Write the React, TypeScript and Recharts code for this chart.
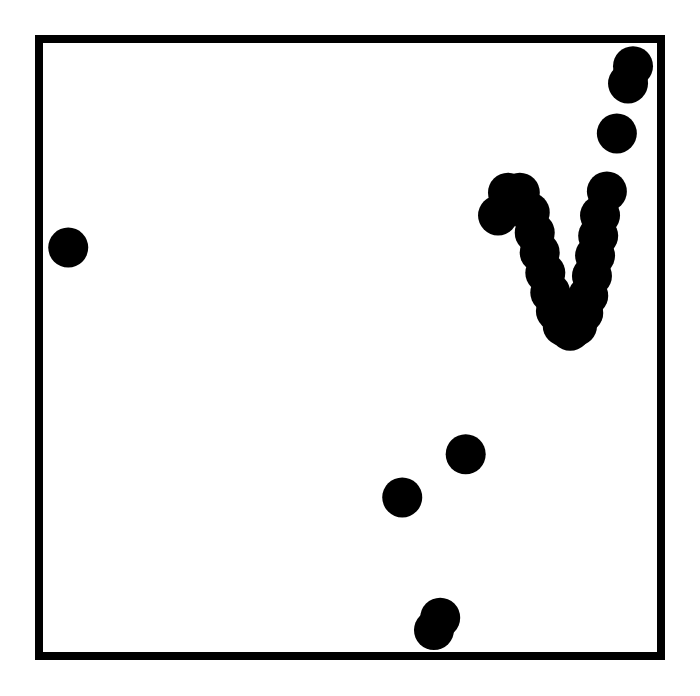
import { ScatterChart, Scatter, XAxis, YAxis, ReferenceArea } from "recharts"

// normalized positions on a 0–10 scale (no tick labels in the source)
const xs = [
    0.47, 5.84, 6.86, 6.45, 6.35, 9.29, 9.13, 9.55, 9.47,
    7.38, 7.54, 7.73, 7.89, 7.97, 8.05, 8.14, 8.22, 8.31, 8.42, 8.54,
    8.65, 8.75, 8.83, 8.89, 8.94, 8.99, 9.02,
]
const ys = [
    6.62, 2.57, 3.27, 0.62, 0.42, 8.47, 7.53, 9.56, 9.28,
    7.14, 7.51, 7.51, 7.19, 6.86, 6.54, 6.21, 5.89, 5.59, 5.35, 5.27,
    5.35, 5.56, 5.84, 6.16, 6.49, 6.81, 7.14,
]

const points = xs.map((x, i) => ({ x, y: ys[i] }))

const Dot = (props: any) => {
    const { cx, cy } = props
    return <circle cx={cx} cy={cy} r={20} fill="#000" />
}

export default function App() {
    return (
        <ScatterChart
            width={684}
            height={680}
            margin={{ top: 31, right: 31, bottom: 32, left: 31 }}
        >
            <XAxis type="number" dataKey="x" domain={[0, 10]} hide />
            <YAxis type="number" dataKey="y" domain={[0, 10]} hide />
            <Scatter data={points} shape={<Dot />} isAnimationActive={false} />
            <ReferenceArea
                x1={0}
                x2={10}
                y1={0}
                y2={10}
                fill="none"
                stroke="#000"
                strokeWidth={8}
                ifOverflow="visible"
            />
        </ScatterChart>
    )
}
